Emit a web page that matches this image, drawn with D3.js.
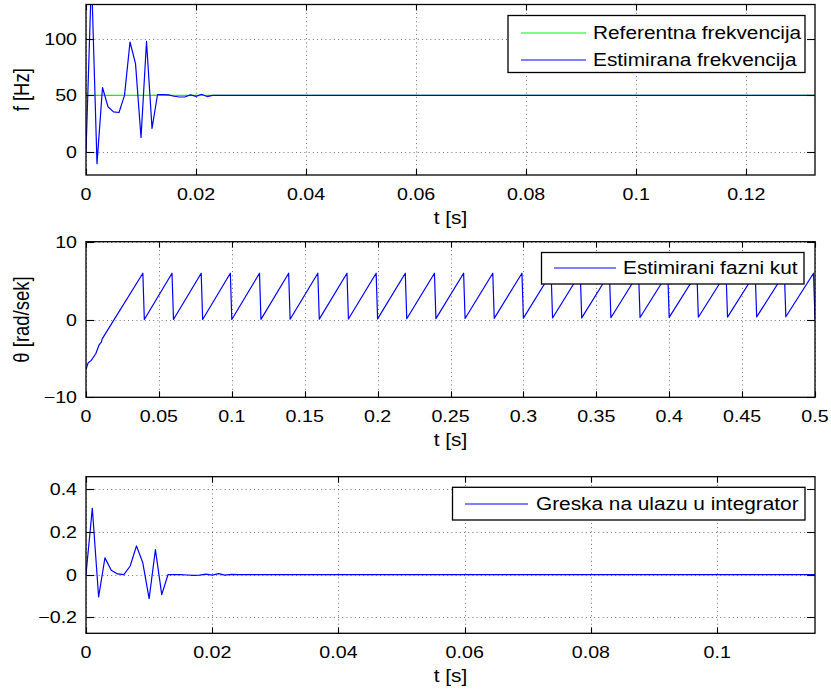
<!DOCTYPE html>
<html>
<head>
<meta charset="utf-8">
<script src="https://cdn.jsdelivr.net/npm/d3@7"></script>
<style>
  html, body { margin: 0; padding: 0; background: #fff; }
  svg { display: block; }
  text { font-family: "Liberation Sans", Arial, Helvetica, sans-serif; fill: #000; }
</style>
</head>
<body>
<div id="chart"></div>
<script>
// ---------- DATA ----------
// Panel 1: frequency [Hz] vs time [s]
const freqT = [0, 0.001, 0.002, 0.003, 0.004, 0.005, 0.006, 0.007, 0.008, 0.009, 0.010, 0.011, 0.012,
               0.013, 0.014, 0.015, 0.016, 0.017, 0.018, 0.019, 0.020, 0.021, 0.022, 0.023, 0.024, 0.1325];
const freqEst = [0, 155, -10, 57, 40, 35.5, 35, 50, 97, 78, 13, 97.5, 21,
                 50.8, 50.7, 50.5, 49.3, 48.6, 48.8, 50.5, 49.2, 51, 49, 50, 50, 50];
const refT = [0, 0.1325];
const refFreq = [50, 50];
const freqXTicks = [0, 0.02, 0.04, 0.06, 0.08, 0.1, 0.12];
const freqYTicks = [0, 50, 100];

// Panel 2: estimated phase angle [rad] (vertices of the sawtooth)
const thetaT = [0, 0.0014, 0.0036, 0.0067, 0.0089, 0.0105, 0.0112,
  0.039, 0.040, 0.059, 0.060, 0.079, 0.080, 0.099, 0.100, 0.119, 0.120,
  0.139, 0.140, 0.159, 0.160, 0.179, 0.180, 0.199, 0.200, 0.219, 0.220,
  0.239, 0.240, 0.259, 0.260, 0.279, 0.280, 0.299, 0.300, 0.319, 0.320,
  0.339, 0.340, 0.359, 0.360, 0.379, 0.380, 0.399, 0.400, 0.419, 0.420,
  0.439, 0.440, 0.459, 0.460, 0.479, 0.480, 0.499, 0.500];
const thetaV = [-6.4, -5.6, -5.25, -4.4, -3.3, -2.9, -2.45,
  5.95, 0, 5.95, 0, 5.95, 0, 5.95, 0, 5.95, 0.02,
  5.95, 0.03, 5.95, 0.05, 5.95, 0.06, 5.95, 0.08, 5.95, 0.10,
  5.95, 0.11, 5.95, 0.13, 5.95, 0.15, 5.95, 0.17, 5.95, 0.19,
  5.95, 0.21, 5.95, 0.23, 5.95, 0.25, 5.95, 0.27, 5.95, 0.29,
  5.95, 0.31, 5.95, 0.33, 5.95, 0.35, 5.95, 0];
const thetaXTicks = [0, 0.05, 0.1, 0.15, 0.2, 0.25, 0.3, 0.35, 0.4, 0.45, 0.5];
const thetaYTicks = [-10, 0, 10];

// Panel 3: integrator input error
const errT = [0, 0.001, 0.002, 0.003, 0.004, 0.005, 0.006, 0.007, 0.008, 0.009, 0.010, 0.011, 0.012,
              0.013, 0.014, 0.015, 0.016, 0.017, 0.018, 0.019, 0.020, 0.021, 0.022, 0.023, 0.024, 0.1155];
const errV = [0, 0.31, -0.105, 0.078, 0.02, 0.003, 0, 0.04, 0.134, 0.055, -0.113, 0.117, -0.094,
              0, 0, 0, -0.002, -0.004, -0.003, 0.002, -0.003, 0.004, -0.003, 0.001, 0, 0];
const errXTicks = [0, 0.02, 0.04, 0.06, 0.08, 0.1];
const errYTicks = [-0.2, 0, 0.2, 0.4];

// ---------- LAYOUT ----------
const W = 831, H = 693;
const L = 86, R = 815;
const SX = 1.19; // horizontal glyph stretch of the reference
const svg = d3.select("#chart").append("svg").attr("width", W).attr("height", H);

const fmt = d => {
  const s = d3.format("~g")(+d.toFixed(6));
  return s.replace("-", "\u2212");
};

function panel(cfg) {
  const x = d3.scaleLinear().domain(cfg.xDomain).range([L, R]);
  const y = d3.scaleLinear().domain(cfg.yDomain).range([cfg.bottom, cfg.top]);
  const g = svg.append("g");
  const clipId = "clip" + cfg.id;
  svg.append("clipPath").attr("id", clipId).append("rect")
    .attr("x", L).attr("y", cfg.top).attr("width", R - L).attr("height", cfg.bottom - cfg.top);

  // grid
  const grid = g.append("g").attr("stroke", "#000").attr("stroke-opacity", 0.55)
    .attr("stroke-width", 1).attr("stroke-dasharray", "1,3.2");
  grid.selectAll(".gx").data(cfg.xTicks).join("line")
    .attr("x1", d => Math.round(x(d)) + 0.5).attr("x2", d => Math.round(x(d)) + 0.5)
    .attr("y1", cfg.top).attr("y2", cfg.bottom);
  grid.selectAll(".gy").data(cfg.yTicks).join("line")
    .attr("y1", d => Math.round(y(d)) + 0.5).attr("y2", d => Math.round(y(d)) + 0.5)
    .attr("x1", L).attr("x2", R);

  // data
  const dg = g.append("g").attr("clip-path", `url(#${clipId})`);
  cfg.series.forEach(s => {
    const pts = s.t.map((t, i) => [t, s.v[i]]);
    dg.append("path").datum(pts)
      .attr("fill", "none").attr("stroke", s.color).attr("stroke-width", 1.2)
      .attr("stroke-linejoin", "round")
      .attr("d", d3.line().x(d => x(d[0])).y(d => y(d[1])));
  });

  // box
  g.append("rect").attr("x", L).attr("y", cfg.top).attr("width", R - L).attr("height", cfg.bottom - cfg.top)
    .attr("fill", "none").attr("stroke", "#000").attr("stroke-width", 1.3);

  // ticks (inward, all four sides)
  const tk = g.append("g").attr("stroke", "#000").attr("stroke-width", 1.1);
  cfg.xTicks.forEach(d => {
    const xx = Math.round(x(d)) + 0.5;
    tk.append("line").attr("x1", xx).attr("x2", xx).attr("y1", cfg.bottom).attr("y2", cfg.bottom - 6);
    tk.append("line").attr("x1", xx).attr("x2", xx).attr("y1", cfg.top).attr("y2", cfg.top + 6);
  });
  cfg.yTicks.forEach(d => {
    const yy = Math.round(y(d)) + 0.5;
    tk.append("line").attr("y1", yy).attr("y2", yy).attr("x1", L).attr("x2", L + 8);
    tk.append("line").attr("y1", yy).attr("y2", yy).attr("x1", R).attr("x2", R - 8);
  });

  // tick labels
  g.selectAll(".xl").data(cfg.xTicks).join("text")
    .attr("transform", d => `translate(${x(d)},${cfg.bottom + 25}) scale(${SX},1)`)
    .attr("text-anchor", "middle").attr("font-size", 16.5).text(fmt);
  g.selectAll(".yl").data(cfg.yTicks).join("text")
    .attr("transform", d => `translate(77,${y(d) + 6}) scale(${SX},1)`)
    .attr("text-anchor", "end").attr("font-size", 16.5).text(fmt);

  // axis titles
  g.append("text")
    .attr("transform", `translate(${(L + R) / 2},${cfg.bottom + 49}) scale(${SX},1)`)
    .attr("text-anchor", "middle").attr("font-size", 17.5).text("t [s]");
  if (cfg.yLabel) {
    g.append("text")
      .attr("transform", `translate(29,${(cfg.top + cfg.bottom) / 2}) rotate(-90) scale(1,${SX})`)
      .attr("text-anchor", "middle").attr("font-size", 18.5).text(cfg.yLabel);
  }

  // legend
  const lg = cfg.legend;
  const leg = g.append("g");
  leg.append("rect").attr("x", lg.x0).attr("y", lg.y0).attr("width", lg.x1 - lg.x0).attr("height", lg.y1 - lg.y0)
    .attr("fill", "#fff").attr("stroke", "#000").attr("stroke-width", 1.3);
  lg.items.forEach(it => {
    leg.append("line").attr("x1", lg.lx0).attr("x2", lg.lx1).attr("y1", it.y).attr("y2", it.y)
      .attr("stroke", it.color).attr("stroke-width", 1.2);
    leg.append("text").attr("transform", `translate(${lg.tx},${it.y + 6.3}) scale(${SX},1)`)
      .attr("font-size", 17.5).text(it.label);
  });
}

panel({
  id: 1, top: 4.5, bottom: 175,
  xDomain: [0, 0.1325], yDomain: [-20, 130],
  xTicks: freqXTicks, yTicks: freqYTicks, yLabel: "f [Hz]",
  series: [
    { t: refT, v: refFreq, color: "#00ff00" },
    { t: freqT, v: freqEst, color: "#0000ff" }
  ],
  legend: { x0: 508, x1: 805, y0: 15.5, y1: 72.5, lx0: 521, lx1: 586, tx: 593,
    items: [
      { y: 33, color: "#00ff00", label: "Referentna frekvencija" },
      { y: 60, color: "#0000ff", label: "Estimirana frekvencija" }
    ] }
});

panel({
  id: 2, top: 241.7, bottom: 397.3,
  xDomain: [0, 0.5], yDomain: [-10, 10],
  xTicks: thetaXTicks, yTicks: thetaYTicks, yLabel: "\u03B8 [rad/sek]",
  series: [ { t: thetaT, v: thetaV, color: "#0000ff" } ],
  legend: { x0: 541.5, x1: 804, y0: 252.5, y1: 284, lx0: 554, lx1: 616, tx: 623,
    items: [ { y: 268, color: "#0000ff", label: "Estimirani fazni kut" } ] }
});

panel({
  id: 3, top: 476.7, bottom: 633.3,
  xDomain: [0, 0.1155], yDomain: [-0.275, 0.458],
  xTicks: errXTicks, yTicks: errYTicks, yLabel: null,
  series: [ { t: errT, v: errV, color: "#0000ff" } ],
  legend: { x0: 452.5, x1: 805, y0: 487.3, y1: 520, lx0: 465, lx1: 528, tx: 536,
    items: [ { y: 504, color: "#0000ff", label: "Greska na ulazu u integrator" } ] }
});
</script>
</body>
</html>
